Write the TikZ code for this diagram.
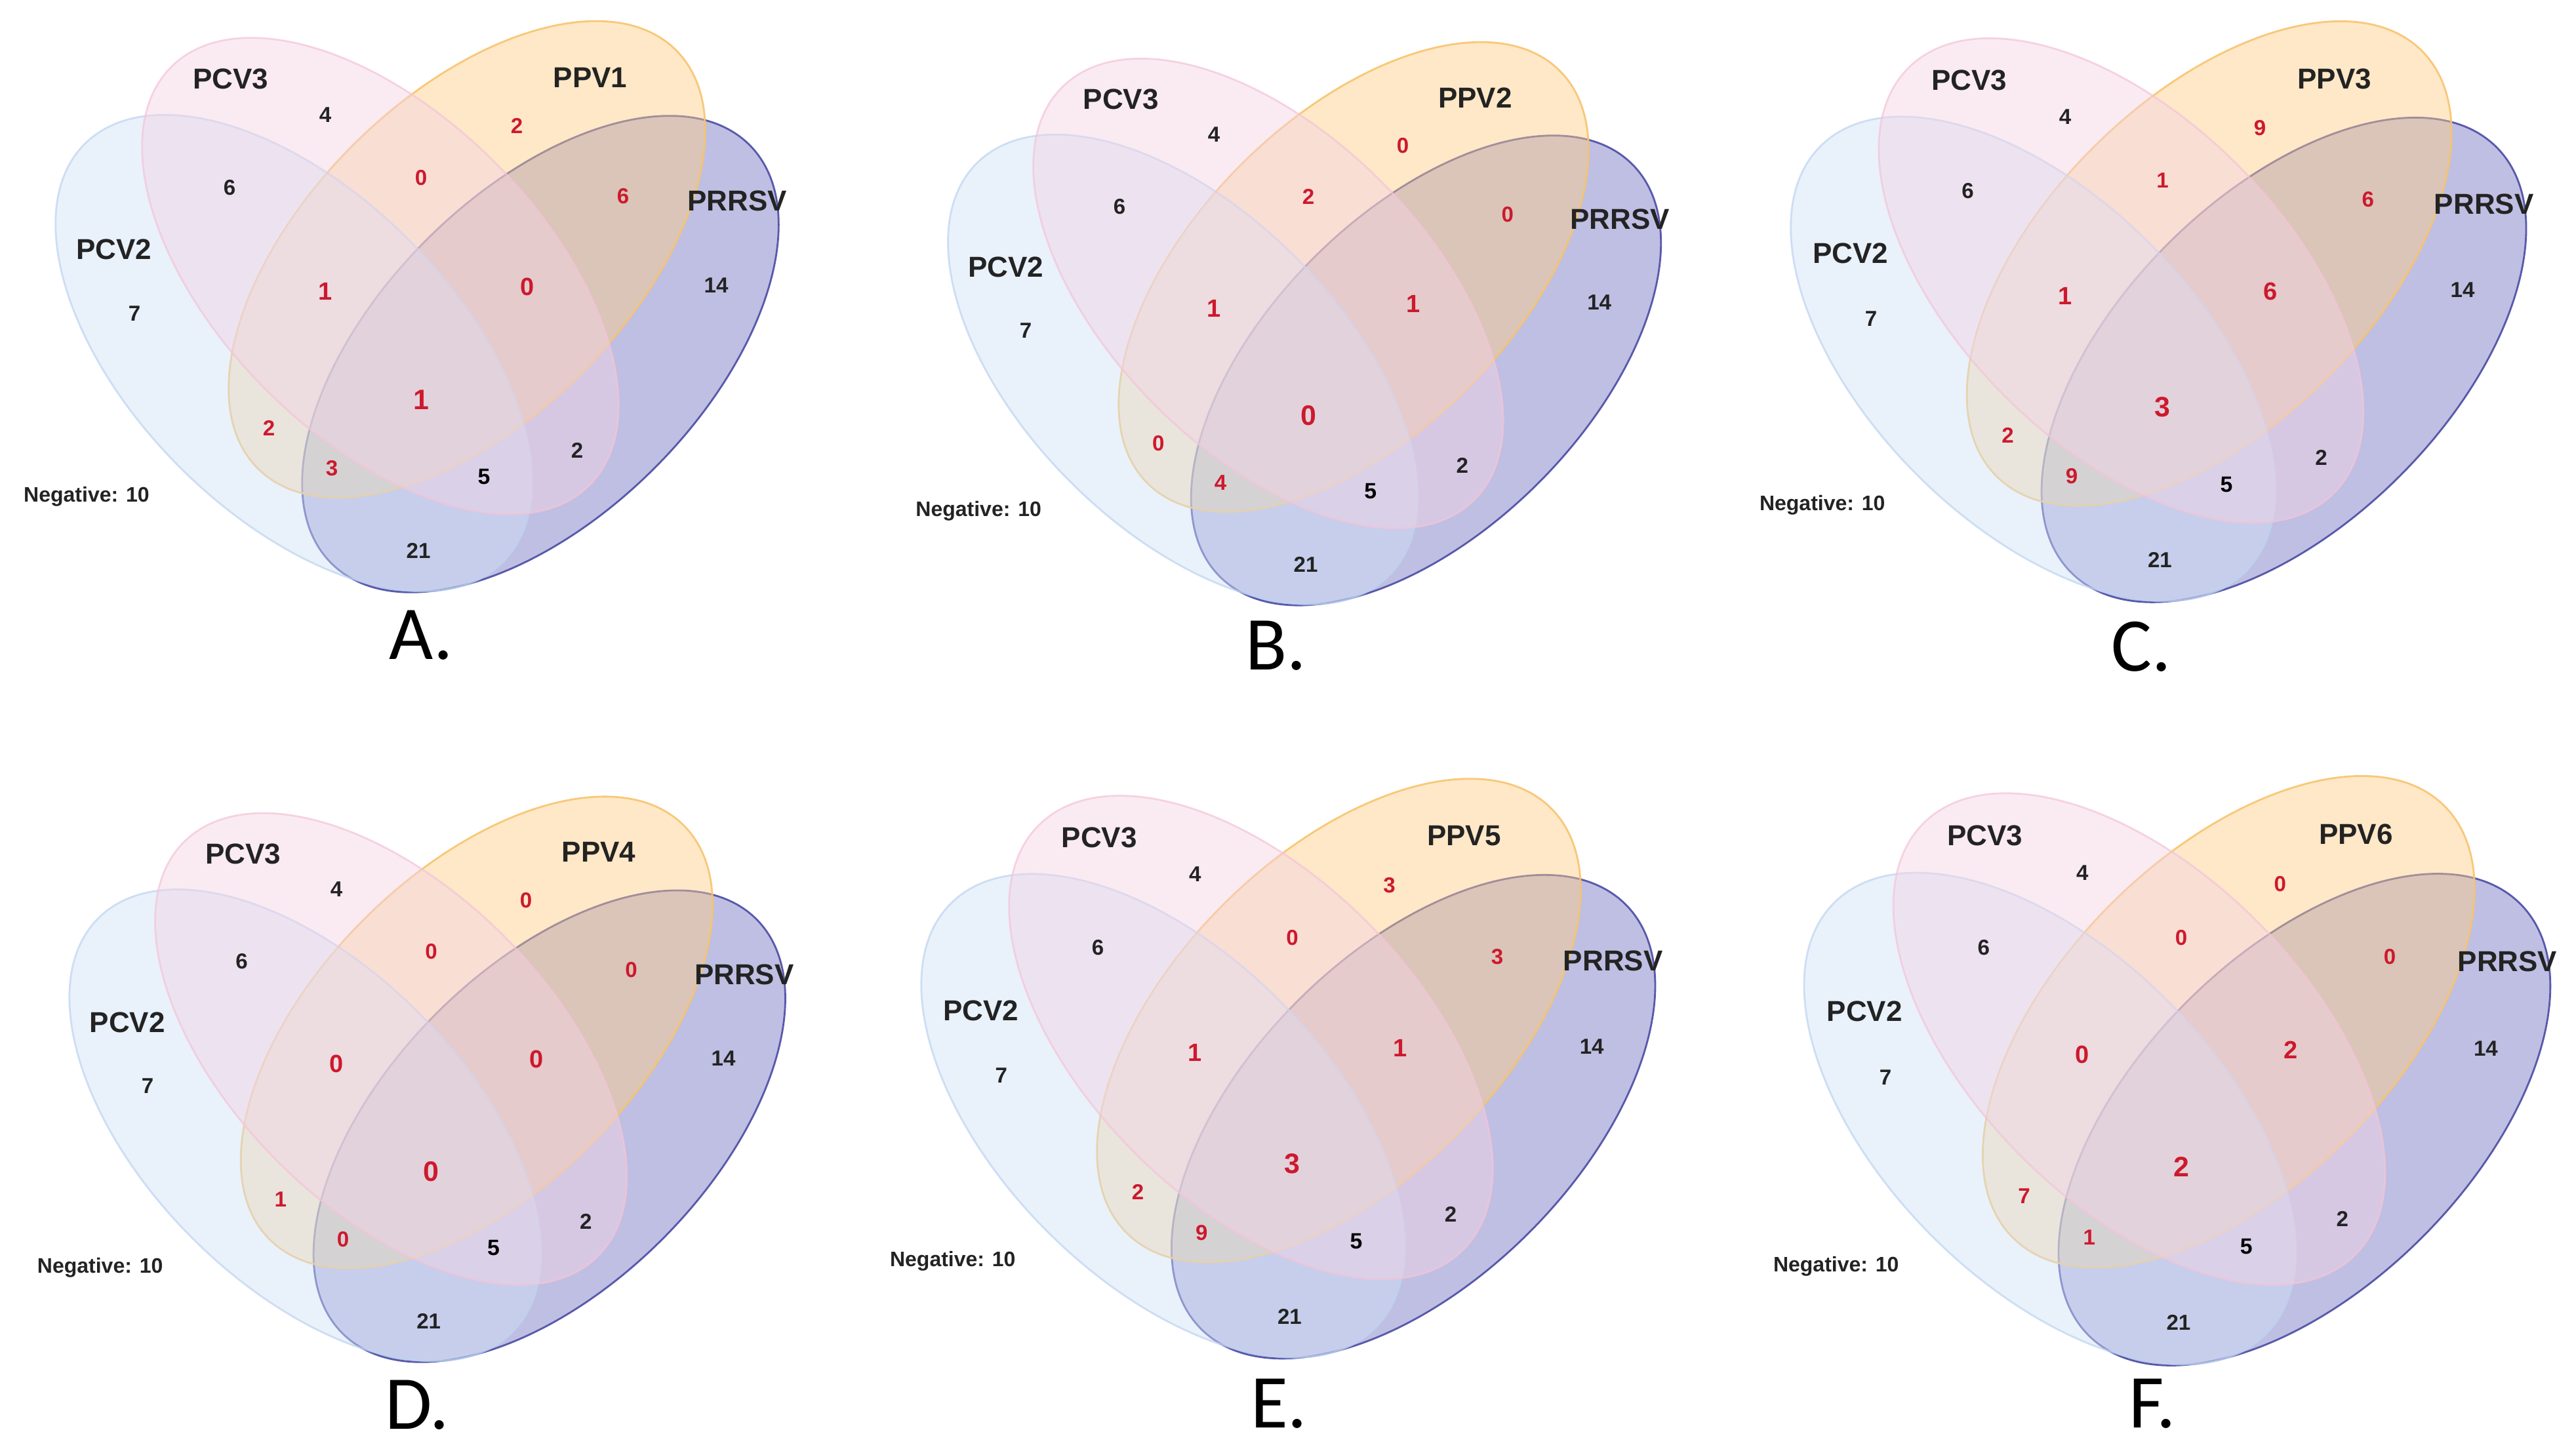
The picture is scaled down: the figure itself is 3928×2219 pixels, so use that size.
\documentclass[tikz,border=0pt]{standalone}
\usepackage{fontspec}
\setmainfont{Liberation Sans}
\newfontfamily\letterfont{Carlito}
\definecolor{cPCVtwo}{RGB}{208,226,248}
\definecolor{cPCVthree}{RGB}{244,211,228}
\definecolor{cPPV}{RGB}{253,206,133}
\definecolor{cPRRSV}{RGB}{111,115,191}
\definecolor{ePCVtwo}{RGB}{190,212,240}
\definecolor{ePCVthree}{RGB}{244,196,216}
\definecolor{ePPV}{RGB}{248,196,110}
\definecolor{ePRRSV}{RGB}{75,75,165}
\definecolor{numredc}{RGB}{205,25,45}
\definecolor{txtdark}{RGB}{35,35,35}
\tikzset{
  vset/.style={fill opacity=0.45, draw opacity=0.9, line width=0.8pt},
  prrsvset/.style={vset, fill=cPRRSV, draw=ePRRSV},
  ppvset/.style={vset, fill=cPPV, draw=ePPV},
  pcvtwoset/.style={vset, fill=cPCVtwo, draw=ePCVtwo, draw opacity=0.7},
  pcvthreeset/.style={vset, fill=cPCVthree, draw=ePCVthree, draw opacity=0.7},
  vtext/.style={inner sep=0pt, text depth=0pt},
  setlabel/.style={vtext, text=txtdark, font=\fontsize{12.5}{14}\selectfont\bfseries},
  numblack/.style={vtext, text=txtdark, font=\fontsize{9.4}{11}\selectfont\bfseries},
  numblackstrong/.style={vtext, text=black, font=\fontsize{9.6}{11}\selectfont\bfseries},
  neglabel/.style={vtext, text=txtdark, font=\fontsize{9.1}{11}\selectfont\bfseries},
  numred/.style={vtext, text=numredc, font=\fontsize{9.4}{11}\selectfont\bfseries},
  numredmid/.style={vtext, text=numredc, font=\fontsize{10.8}{12}\selectfont\bfseries},
  numredbig/.style={vtext, text=numredc, font=\fontsize{12.2}{14}\selectfont\bfseries},
  panelletter/.style={vtext, text=black, font=\fontsize{33}{36}\selectfont\letterfont}
}
\newcommand{\vennpanel}[9]{%
  \draw[prrsvset, rotate around={45:(824,540)}] (824,540) ellipse [x radius=451, y radius=246];
  \draw[ppvset, rotate around={45:(712,395.5)}] (712,395.5) ellipse [x radius=451, y radius=246];
  \draw[pcvtwoset, rotate around={-45:(448,538.5)}] (448,538.5) ellipse [x radius=451, y radius=246];
  \draw[pcvthreeset, rotate around={-45:(580,421)}] (580,421) ellipse [x radius=451, y radius=246];
  \node[setlabel] (lpcvthree) at (352,120) {PCV3};
  \node[setlabel] (lppv) at (900,118) {#1};
  \node[setlabel] (lpcvtwo) at (174,380) {PCV2};
  \node[setlabel] (lprrsv) at (1124,306) {PRRSV};
  \node[numblack] (nfour) at (496,175) {4};
  \node[numblack] (nsix) at (350,286) {6};
  \node[numblack] (nseven) at (205,478) {7};
  \node[numblack] (nfourteen) at (1092,435) {14};
  \node[numblackstrong] (nfive) at (738,727) {5};
  \node[numblack] (ntwo) at (880,687) {2};
  \node[numblack] (ntwentyone) at (638,840) {21};
  \node[neglabel] (neg) at (132,754) {Negative: 10};
  \node[numred] (rppv) at (788,192) {#2};
  \node[numred] (rthreeppv) at (642,271) {#3};
  \node[numred] (rppvprrsv) at (950,299) {#4};
  \node[numredmid] (rtwothreeppv) at (496,444) {#5};
  \node[numredmid] (rthreeppvprrsv) at (804,437) {#6};
  \node[numredbig] (rall) at (642,610) {#7};
  \node[numred] (rtwoppv) at (410,653) {#8};
  \node[numred] (rtwoppvprrsv) at (506,714) {#9};
}
\begin{document}
\begin{tikzpicture}[x=0.01cm, y=-0.01cm]
\useasboundingbox (0,0) rectangle (3928,2219);
\fill[white] (0,0) rectangle (3928,2219);
\begin{scope}[name prefix=A-]
  \vennpanel{PPV1}{2}{0}{6}{1}{0}{1}{2}{3}
\end{scope}
\begin{scope}[name prefix=B-, shift={(1362,32.5)}, scale=0.986]
  \vennpanel{PPV2}{0}{2}{0}{1}{1}{0}{0}{4}
\end{scope}
\begin{scope}[name prefix=C-, shift={(2644.5,-0.3)}, scale=1.017]
  \vennpanel{PPV3}{9}{1}{6}{1}{6}{3}{2}{9}
\end{scope}
\begin{scope}[name prefix=D-, shift={(22,1183)}, scale=0.99]
  \vennpanel{PPV4}{0}{0}{0}{0}{0}{0}{1}{0}
\end{scope}
\begin{scope}[name prefix=E-, shift={(1318.8,1155)}, scale=1.015]
  \vennpanel{PPV5}{3}{0}{3}{1}{1}{3}{2}{9}
\end{scope}
\begin{scope}[name prefix=F-, shift={(2663.5,1150.2)}, scale=1.032]
  \vennpanel{PPV6}{0}{0}{0}{0}{2}{2}{7}{1}
\end{scope}
\node[panelletter] (letA) at (642,968) {A.};
\node[panelletter] (letB) at (1946,984.5) {B.};
\node[panelletter] (letC) at (3265,986) {C.};
\node[panelletter] (letD) at (636,2142) {D.};
\node[panelletter] (letE) at (1950,2140) {E.};
\node[panelletter] (letF) at (3282,2140) {F.};
\end{tikzpicture}
\end{document}
